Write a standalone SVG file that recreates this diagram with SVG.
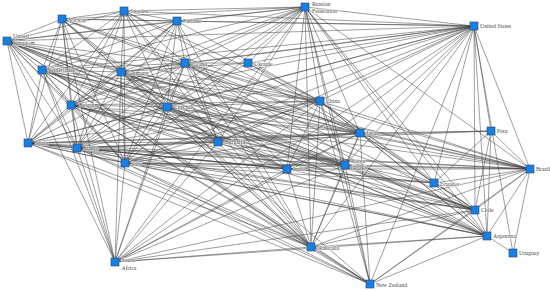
<svg xmlns="http://www.w3.org/2000/svg" width="550" height="291" viewBox="0 0 550 291">
<style>
.e line{stroke:#404040;stroke-width:0.5;fill:none}
.n rect{fill:#1a7fe2;stroke:#24466f;stroke-width:0.6}
.n text{font-family:"Liberation Serif",serif;font-size:5.8px;fill:#4a4a4a;stroke:#fff;stroke-width:1.2;stroke-opacity:0.75;paint-order:stroke}
</style>
<rect width="550" height="291" fill="#fff"/>
<g id="connectors" class="e">
<line x1="7" y1="41" x2="62" y2="19"/><line x1="7" y1="41" x2="124" y2="11"/><line x1="7" y1="41" x2="177" y2="21"/><line x1="7" y1="41" x2="42" y2="70"/><line x1="7" y1="41" x2="121" y2="72"/><line x1="7" y1="41" x2="185" y2="63"/><line x1="7" y1="41" x2="71" y2="105"/><line x1="7" y1="41" x2="167" y2="107"/><line x1="7" y1="41" x2="28" y2="143"/><line x1="7" y1="41" x2="77" y2="148"/><line x1="7" y1="41" x2="125" y2="163"/><line x1="7" y1="41" x2="218" y2="142"/>
<line x1="62" y1="19" x2="124" y2="11"/><line x1="62" y1="19" x2="177" y2="21"/><line x1="62" y1="19" x2="42" y2="70"/><line x1="62" y1="19" x2="121" y2="72"/><line x1="62" y1="19" x2="185" y2="63"/><line x1="62" y1="19" x2="71" y2="105"/><line x1="62" y1="19" x2="167" y2="107"/><line x1="62" y1="19" x2="28" y2="143"/><line x1="62" y1="19" x2="77" y2="148"/><line x1="62" y1="19" x2="125" y2="163"/><line x1="62" y1="19" x2="218" y2="142"/>
<line x1="124" y1="11" x2="177" y2="21"/><line x1="124" y1="11" x2="42" y2="70"/><line x1="124" y1="11" x2="121" y2="72"/><line x1="124" y1="11" x2="185" y2="63"/><line x1="124" y1="11" x2="71" y2="105"/><line x1="124" y1="11" x2="167" y2="107"/><line x1="124" y1="11" x2="28" y2="143"/><line x1="124" y1="11" x2="77" y2="148"/><line x1="124" y1="11" x2="125" y2="163"/><line x1="124" y1="11" x2="218" y2="142"/>
<line x1="177" y1="21" x2="42" y2="70"/><line x1="177" y1="21" x2="121" y2="72"/><line x1="177" y1="21" x2="185" y2="63"/><line x1="177" y1="21" x2="71" y2="105"/><line x1="177" y1="21" x2="167" y2="107"/><line x1="177" y1="21" x2="28" y2="143"/><line x1="177" y1="21" x2="77" y2="148"/><line x1="177" y1="21" x2="125" y2="163"/><line x1="177" y1="21" x2="218" y2="142"/>
<line x1="42" y1="70" x2="121" y2="72"/><line x1="42" y1="70" x2="185" y2="63"/><line x1="42" y1="70" x2="71" y2="105"/><line x1="42" y1="70" x2="167" y2="107"/><line x1="42" y1="70" x2="28" y2="143"/><line x1="42" y1="70" x2="77" y2="148"/><line x1="42" y1="70" x2="125" y2="163"/><line x1="42" y1="70" x2="218" y2="142"/>
<line x1="121" y1="72" x2="185" y2="63"/><line x1="121" y1="72" x2="71" y2="105"/><line x1="121" y1="72" x2="167" y2="107"/><line x1="121" y1="72" x2="28" y2="143"/><line x1="121" y1="72" x2="77" y2="148"/><line x1="121" y1="72" x2="125" y2="163"/><line x1="121" y1="72" x2="218" y2="142"/>
<line x1="185" y1="63" x2="71" y2="105"/><line x1="185" y1="63" x2="167" y2="107"/><line x1="185" y1="63" x2="28" y2="143"/><line x1="185" y1="63" x2="77" y2="148"/><line x1="185" y1="63" x2="125" y2="163"/><line x1="185" y1="63" x2="218" y2="142"/>
<line x1="71" y1="105" x2="167" y2="107"/><line x1="71" y1="105" x2="28" y2="143"/><line x1="71" y1="105" x2="77" y2="148"/><line x1="71" y1="105" x2="125" y2="163"/><line x1="71" y1="105" x2="218" y2="142"/>
<line x1="167" y1="107" x2="28" y2="143"/><line x1="167" y1="107" x2="77" y2="148"/><line x1="167" y1="107" x2="125" y2="163"/><line x1="167" y1="107" x2="218" y2="142"/>
<line x1="28" y1="143" x2="77" y2="148"/><line x1="28" y1="143" x2="125" y2="163"/><line x1="28" y1="143" x2="218" y2="142"/>
<line x1="77" y1="148" x2="125" y2="163"/><line x1="77" y1="148" x2="218" y2="142"/>
<line x1="125" y1="163" x2="218" y2="142"/>
<line x1="305" y1="7" x2="7" y2="41"/><line x1="305" y1="7" x2="62" y2="19"/><line x1="305" y1="7" x2="124" y2="11"/><line x1="305" y1="7" x2="177" y2="21"/><line x1="305" y1="7" x2="42" y2="70"/><line x1="305" y1="7" x2="121" y2="72"/><line x1="305" y1="7" x2="185" y2="63"/><line x1="305" y1="7" x2="71" y2="105"/><line x1="305" y1="7" x2="167" y2="107"/><line x1="305" y1="7" x2="77" y2="148"/><line x1="305" y1="7" x2="125" y2="163"/><line x1="305" y1="7" x2="218" y2="142"/><line x1="305" y1="7" x2="248" y2="63"/><line x1="305" y1="7" x2="474" y2="26"/><line x1="305" y1="7" x2="320" y2="101"/><line x1="305" y1="7" x2="360" y2="133"/><line x1="305" y1="7" x2="345" y2="165"/><line x1="305" y1="7" x2="287" y2="169"/><line x1="305" y1="7" x2="530" y2="169"/><line x1="305" y1="7" x2="475" y2="210"/><line x1="305" y1="7" x2="487" y2="236"/><line x1="305" y1="7" x2="311" y2="247"/><line x1="305" y1="7" x2="370" y2="284"/><line x1="305" y1="7" x2="434" y2="183"/><line x1="305" y1="7" x2="115" y2="262"/>
<line x1="248" y1="63" x2="185" y2="63"/><line x1="248" y1="63" x2="121" y2="72"/><line x1="248" y1="63" x2="167" y2="107"/><line x1="248" y1="63" x2="474" y2="26"/><line x1="248" y1="63" x2="320" y2="101"/><line x1="248" y1="63" x2="360" y2="133"/>
<line x1="474" y1="26" x2="7" y2="41"/><line x1="474" y1="26" x2="62" y2="19"/><line x1="474" y1="26" x2="124" y2="11"/><line x1="474" y1="26" x2="177" y2="21"/><line x1="474" y1="26" x2="42" y2="70"/><line x1="474" y1="26" x2="121" y2="72"/><line x1="474" y1="26" x2="185" y2="63"/><line x1="474" y1="26" x2="71" y2="105"/><line x1="474" y1="26" x2="167" y2="107"/><line x1="474" y1="26" x2="28" y2="143"/><line x1="474" y1="26" x2="77" y2="148"/><line x1="474" y1="26" x2="125" y2="163"/><line x1="474" y1="26" x2="218" y2="142"/><line x1="474" y1="26" x2="320" y2="101"/><line x1="474" y1="26" x2="360" y2="133"/><line x1="474" y1="26" x2="345" y2="165"/><line x1="474" y1="26" x2="287" y2="169"/><line x1="474" y1="26" x2="491" y2="131"/><line x1="474" y1="26" x2="530" y2="169"/><line x1="474" y1="26" x2="434" y2="183"/><line x1="474" y1="26" x2="475" y2="210"/><line x1="474" y1="26" x2="487" y2="236"/><line x1="474" y1="26" x2="513" y2="253"/><line x1="474" y1="26" x2="311" y2="247"/><line x1="474" y1="26" x2="370" y2="284"/><line x1="474" y1="26" x2="115" y2="262"/>
<line x1="320" y1="101" x2="7" y2="41"/><line x1="320" y1="101" x2="62" y2="19"/><line x1="320" y1="101" x2="124" y2="11"/><line x1="320" y1="101" x2="177" y2="21"/><line x1="320" y1="101" x2="42" y2="70"/><line x1="320" y1="101" x2="121" y2="72"/><line x1="320" y1="101" x2="185" y2="63"/><line x1="320" y1="101" x2="71" y2="105"/><line x1="320" y1="101" x2="167" y2="107"/><line x1="320" y1="101" x2="28" y2="143"/><line x1="320" y1="101" x2="77" y2="148"/><line x1="320" y1="101" x2="125" y2="163"/><line x1="320" y1="101" x2="218" y2="142"/><line x1="320" y1="101" x2="360" y2="133"/><line x1="320" y1="101" x2="345" y2="165"/><line x1="320" y1="101" x2="287" y2="169"/><line x1="320" y1="101" x2="311" y2="247"/><line x1="320" y1="101" x2="370" y2="284"/><line x1="320" y1="101" x2="530" y2="169"/><line x1="320" y1="101" x2="475" y2="210"/><line x1="320" y1="101" x2="487" y2="236"/><line x1="320" y1="101" x2="115" y2="262"/><line x1="320" y1="101" x2="434" y2="183"/>
<line x1="360" y1="133" x2="7" y2="41"/><line x1="360" y1="133" x2="62" y2="19"/><line x1="360" y1="133" x2="124" y2="11"/><line x1="360" y1="133" x2="42" y2="70"/><line x1="360" y1="133" x2="121" y2="72"/><line x1="360" y1="133" x2="185" y2="63"/><line x1="360" y1="133" x2="71" y2="105"/><line x1="360" y1="133" x2="167" y2="107"/><line x1="360" y1="133" x2="28" y2="143"/><line x1="360" y1="133" x2="77" y2="148"/><line x1="360" y1="133" x2="125" y2="163"/><line x1="360" y1="133" x2="218" y2="142"/><line x1="360" y1="133" x2="345" y2="165"/><line x1="360" y1="133" x2="287" y2="169"/><line x1="360" y1="133" x2="311" y2="247"/><line x1="360" y1="133" x2="370" y2="284"/><line x1="360" y1="133" x2="530" y2="169"/><line x1="360" y1="133" x2="475" y2="210"/><line x1="360" y1="133" x2="487" y2="236"/><line x1="360" y1="133" x2="115" y2="262"/><line x1="360" y1="133" x2="434" y2="183"/><line x1="360" y1="133" x2="491" y2="131"/>
<line x1="345" y1="165" x2="7" y2="41"/><line x1="345" y1="165" x2="121" y2="72"/><line x1="345" y1="165" x2="77" y2="148"/><line x1="345" y1="165" x2="125" y2="163"/><line x1="345" y1="165" x2="28" y2="143"/><line x1="345" y1="165" x2="71" y2="105"/><line x1="345" y1="165" x2="42" y2="70"/><line x1="345" y1="165" x2="185" y2="63"/><line x1="345" y1="165" x2="167" y2="107"/><line x1="345" y1="165" x2="218" y2="142"/><line x1="345" y1="165" x2="287" y2="169"/><line x1="345" y1="165" x2="311" y2="247"/><line x1="345" y1="165" x2="370" y2="284"/><line x1="345" y1="165" x2="530" y2="169"/><line x1="345" y1="165" x2="475" y2="210"/><line x1="345" y1="165" x2="487" y2="236"/><line x1="345" y1="165" x2="115" y2="262"/>
<line x1="287" y1="169" x2="7" y2="41"/><line x1="287" y1="169" x2="121" y2="72"/><line x1="287" y1="169" x2="77" y2="148"/><line x1="287" y1="169" x2="125" y2="163"/><line x1="287" y1="169" x2="28" y2="143"/><line x1="287" y1="169" x2="71" y2="105"/><line x1="287" y1="169" x2="185" y2="63"/><line x1="287" y1="169" x2="167" y2="107"/><line x1="287" y1="169" x2="218" y2="142"/><line x1="287" y1="169" x2="311" y2="247"/><line x1="287" y1="169" x2="530" y2="169"/><line x1="287" y1="169" x2="115" y2="262"/><line x1="287" y1="169" x2="475" y2="210"/>
<line x1="491" y1="131" x2="530" y2="169"/><line x1="491" y1="131" x2="475" y2="210"/><line x1="491" y1="131" x2="487" y2="236"/><line x1="491" y1="131" x2="434" y2="183"/><line x1="491" y1="131" x2="28" y2="143"/><line x1="491" y1="131" x2="77" y2="148"/>
<line x1="530" y1="169" x2="7" y2="41"/><line x1="530" y1="169" x2="121" y2="72"/><line x1="530" y1="169" x2="77" y2="148"/><line x1="530" y1="169" x2="125" y2="163"/><line x1="530" y1="169" x2="28" y2="143"/><line x1="530" y1="169" x2="71" y2="105"/><line x1="530" y1="169" x2="42" y2="70"/><line x1="530" y1="169" x2="185" y2="63"/><line x1="530" y1="169" x2="167" y2="107"/><line x1="530" y1="169" x2="434" y2="183"/><line x1="530" y1="169" x2="475" y2="210"/><line x1="530" y1="169" x2="487" y2="236"/><line x1="530" y1="169" x2="513" y2="253"/><line x1="530" y1="169" x2="311" y2="247"/><line x1="530" y1="169" x2="370" y2="284"/><line x1="530" y1="169" x2="115" y2="262"/>
<line x1="434" y1="183" x2="28" y2="143"/><line x1="434" y1="183" x2="77" y2="148"/><line x1="434" y1="183" x2="125" y2="163"/><line x1="434" y1="183" x2="121" y2="72"/><line x1="434" y1="183" x2="71" y2="105"/><line x1="434" y1="183" x2="475" y2="210"/><line x1="434" y1="183" x2="487" y2="236"/>
<line x1="475" y1="210" x2="7" y2="41"/><line x1="475" y1="210" x2="121" y2="72"/><line x1="475" y1="210" x2="77" y2="148"/><line x1="475" y1="210" x2="125" y2="163"/><line x1="475" y1="210" x2="28" y2="143"/><line x1="475" y1="210" x2="71" y2="105"/><line x1="475" y1="210" x2="42" y2="70"/><line x1="475" y1="210" x2="185" y2="63"/><line x1="475" y1="210" x2="167" y2="107"/><line x1="475" y1="210" x2="487" y2="236"/><line x1="475" y1="210" x2="311" y2="247"/><line x1="475" y1="210" x2="370" y2="284"/><line x1="475" y1="210" x2="115" y2="262"/>
<line x1="487" y1="236" x2="7" y2="41"/><line x1="487" y1="236" x2="121" y2="72"/><line x1="487" y1="236" x2="77" y2="148"/><line x1="487" y1="236" x2="125" y2="163"/><line x1="487" y1="236" x2="28" y2="143"/><line x1="487" y1="236" x2="71" y2="105"/><line x1="487" y1="236" x2="42" y2="70"/><line x1="487" y1="236" x2="185" y2="63"/><line x1="487" y1="236" x2="167" y2="107"/><line x1="487" y1="236" x2="513" y2="253"/><line x1="487" y1="236" x2="311" y2="247"/><line x1="487" y1="236" x2="370" y2="284"/><line x1="487" y1="236" x2="115" y2="262"/>
<line x1="311" y1="247" x2="7" y2="41"/><line x1="311" y1="247" x2="62" y2="19"/><line x1="311" y1="247" x2="124" y2="11"/><line x1="311" y1="247" x2="177" y2="21"/><line x1="311" y1="247" x2="42" y2="70"/><line x1="311" y1="247" x2="121" y2="72"/><line x1="311" y1="247" x2="185" y2="63"/><line x1="311" y1="247" x2="71" y2="105"/><line x1="311" y1="247" x2="167" y2="107"/><line x1="311" y1="247" x2="28" y2="143"/><line x1="311" y1="247" x2="77" y2="148"/><line x1="311" y1="247" x2="125" y2="163"/><line x1="311" y1="247" x2="218" y2="142"/><line x1="311" y1="247" x2="370" y2="284"/><line x1="311" y1="247" x2="115" y2="262"/>
<line x1="370" y1="284" x2="7" y2="41"/><line x1="370" y1="284" x2="121" y2="72"/><line x1="370" y1="284" x2="77" y2="148"/><line x1="370" y1="284" x2="125" y2="163"/><line x1="370" y1="284" x2="28" y2="143"/><line x1="370" y1="284" x2="71" y2="105"/><line x1="370" y1="284" x2="42" y2="70"/>
<line x1="115" y1="262" x2="7" y2="41"/><line x1="115" y1="262" x2="62" y2="19"/><line x1="115" y1="262" x2="42" y2="70"/><line x1="115" y1="262" x2="121" y2="72"/><line x1="115" y1="262" x2="71" y2="105"/><line x1="115" y1="262" x2="77" y2="148"/><line x1="115" y1="262" x2="125" y2="163"/><line x1="115" y1="262" x2="167" y2="107"/><line x1="115" y1="262" x2="185" y2="63"/><line x1="115" y1="262" x2="218" y2="142"/>
</g>
<g id="node-uk" class="n"><rect x="3" y="37" width="8" height="8"/><text x="13" y="37.5">United</text><text x="13" y="44.5">Kingdom</text></g>
<g id="node-norway" class="n"><rect x="58" y="15" width="8" height="8"/><text x="68" y="21.5">Norway</text></g>
<g id="node-sweden" class="n"><rect x="120" y="7" width="8" height="8"/><text x="130" y="13">Sweden</text></g>
<g id="node-finland" class="n"><rect x="173" y="17" width="8" height="8"/><text x="183" y="23">Finland</text></g>
<g id="node-netherlands" class="n"><rect x="38" y="66" width="8" height="8"/><text x="47" y="72">Netherlands</text></g>
<g id="node-germany" class="n"><rect x="117" y="68" width="8" height="8"/><text x="127" y="74.5">Germany</text></g>
<g id="node-poland" class="n"><rect x="181" y="59" width="8" height="8"/><text x="191" y="66">Poland</text></g>
<g id="node-russia" class="n"><rect x="301" y="3" width="8" height="8"/><text x="312" y="6">Russian</text><text x="312" y="13">Federation</text></g>
<g id="node-ukraine" class="n"><rect x="244" y="59" width="8" height="8"/><text x="254" y="65.5">Ukraine</text></g>
<g id="node-us" class="n"><rect x="470" y="22" width="8" height="8"/><text x="480" y="28">United States</text></g>
<g id="node-belgium" class="n"><rect x="67" y="101" width="8" height="8"/><text x="79" y="107">Belgium</text></g>
<g id="node-czechia" class="n"><rect x="163" y="103" width="8" height="8"/><text x="174" y="109">Czechia</text></g>
<g id="node-spain" class="n"><rect x="24" y="139" width="8" height="8"/><text x="35" y="145">Spain</text></g>
<g id="node-france" class="n"><rect x="73" y="144" width="8" height="8"/><text x="83" y="150">France</text></g>
<g id="node-italy" class="n"><rect x="121" y="159" width="8" height="8"/><text x="131" y="165.5">Italy</text></g>
<g id="node-bulgaria" class="n"><rect x="214" y="138" width="8" height="8"/><text x="225" y="144">Bulgaria</text></g>
<g id="node-china" class="n"><rect x="316" y="97" width="8" height="8"/><text x="326" y="103">China</text></g>
<g id="node-japan" class="n"><rect x="356" y="129" width="8" height="8"/><text x="366" y="135">Japan</text></g>
<g id="node-india" class="n"><rect x="283" y="165" width="8" height="8"/><text x="293" y="171">India</text></g>
<g id="node-korea" class="n"><rect x="341" y="161" width="8" height="8"/><text x="351" y="163">Korea</text><text x="351" y="170">(ROK)</text></g>
<g id="node-peru" class="n"><rect x="487" y="127" width="8" height="8"/><text x="497" y="133">Peru</text></g>
<g id="node-brazil" class="n"><rect x="526" y="165" width="8" height="8"/><text x="536" y="171">Brazil</text></g>
<g id="node-ecuador" class="n"><rect x="430" y="179" width="8" height="8"/><text x="440" y="185.5">Ecuador</text></g>
<g id="node-southafrica" class="n"><rect x="111" y="258" width="8" height="8"/><text x="121.5" y="262">South</text><text x="121.5" y="269.5">Africa</text></g>
<g id="node-australia" class="n"><rect x="307" y="243" width="8" height="8"/><text x="318" y="249.5">Australia</text></g>
<g id="node-newzealand" class="n"><rect x="366" y="280" width="8" height="8"/><text x="376" y="286.5">New Zealand</text></g>
<g id="node-chile" class="n"><rect x="471" y="206" width="8" height="8"/><text x="481" y="212">Chile</text></g>
<g id="node-argentina" class="n"><rect x="483" y="232" width="8" height="8"/><text x="493" y="238">Argentina</text></g>
<g id="node-uruguay" class="n"><rect x="509" y="249" width="8" height="8"/><text x="519" y="255">Uruguay</text></g>
</svg>
